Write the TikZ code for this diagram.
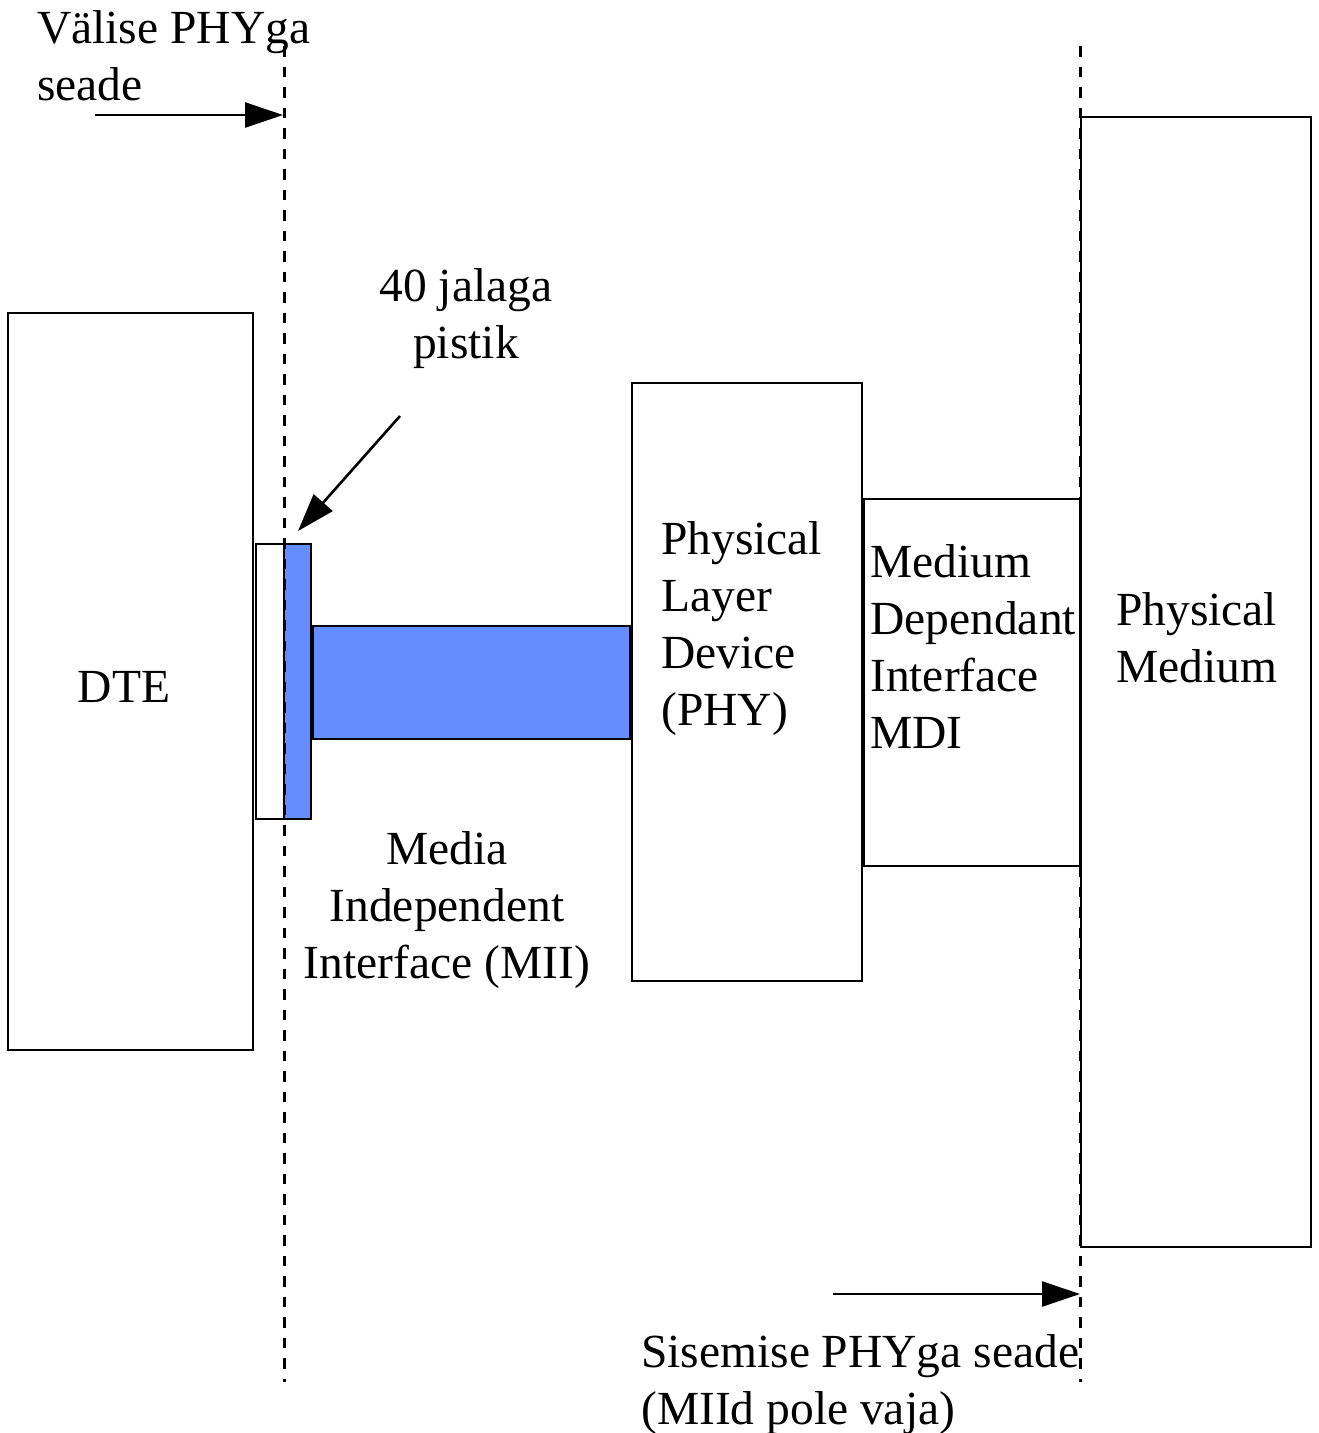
\documentclass[tikz,border=0pt]{standalone}
\usepackage{fontspec}
\setmainfont{Liberation Serif}
\usetikzlibrary{arrows.meta}
\definecolor{miiblue}{RGB}{100,142,255}
\begin{document}
\begin{tikzpicture}[x=1pt,y=-1pt,
  box/.style={draw,line width=2.8pt,fill=white,inner sep=0pt,outer sep=0pt,anchor=north west},
  bluebox/.style={box,fill=miiblue},
  lbl/.style={inner sep=0pt,font=\fontsize{47.5}{57}\selectfont},
  boundary/.style={line width=3pt,dash pattern=on 10.5pt off 10pt},
  pointer/.style={line width=2.6pt,-{Triangle[length=38pt,width=25pt]}}]
\useasboundingbox (0,0) rectangle (1319,1433);

% main blocks
\node[box,minimum width=245pt,minimum height=737pt] (dte) at (8,313) {};
\node[box,minimum width=230pt,minimum height=598pt] (phy) at (632,383) {};
\node[box,minimum width=216pt,minimum height=367pt] (mdi) at (864,499) {};
\node[box,minimum width=230pt,minimum height=1130pt] (medium) at (1081,117) {};

% 40-pin connector and MII cable
\node[box,minimum width=28pt,minimum height=275pt] (plug) at (256,544) {};
\node[bluebox,minimum width=27pt,minimum height=275pt] (socket) at (284,544) {};
\node[bluebox,minimum width=317pt,minimum height=113pt] (mii) at (313,626) {};

% boundaries between external and internal PHY
\coordinate (lt) at (284,46);
\coordinate (lb) at (284,1382);
\coordinate (rt) at (1080,46);
\coordinate (rb) at (1080,1382);
\draw[boundary] (lt) -- (lb);
\draw[boundary] (rt) -- (rb);

% arrows
\coordinate (extfrom) at (95,115);
\coordinate (extto) at (283,115);
\draw[pointer] (extfrom) -- (extto);
\coordinate (pinfrom) at (400,416);
\coordinate (pinto) at (298,531);
\draw[pointer] (pinfrom) -- (pinto);
\coordinate (intfrom) at (833,1294);
\coordinate (intto) at (1080,1294);
\draw[pointer] (intfrom) -- (intto);

% labels (anchored at the baseline of their last line)
\node[lbl,anchor=base west,align=left] (ext) at (37,100) {Välise PHYga\\seade};
\node[lbl,anchor=base,align=center] (pin) at (466,358) {40 jalaga\\pistik};
\node[lbl,anchor=base] (dtet) at (124,702) {DTE};
\node[lbl,anchor=base west,align=left] (phyt) at (661,725) {Physical\\Layer\\Device\\(PHY)};
\node[lbl,anchor=base west,align=left] (mdit) at (870,748) {Medium\\Dependant\\Interface\\MDI};
\node[lbl,anchor=base west,align=left] (medt) at (1116,682) {Physical\\Medium};
\node[lbl,anchor=base,align=center] (miit) at (447,978) {Media\\Independent\\Interface (MII)};
\node[lbl,anchor=base west,align=left] (int) at (641,1424) {Sisemise PHYga seade\\(MIId pole vaja)};
\end{tikzpicture}
\end{document}
